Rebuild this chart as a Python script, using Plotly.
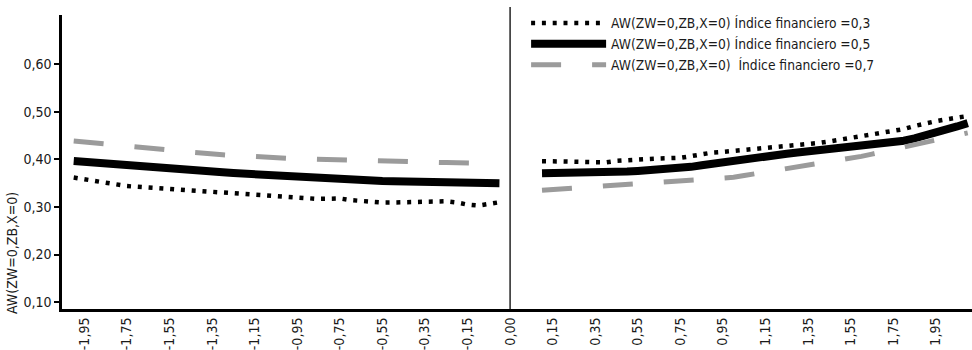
import numpy as np
import plotly.graph_objects as go

# Tick labels along the horizontal axis (one label every four sample slots)
tick_labels = ["-1,95", "-1,75", "-1,55", "-1,35", "-1,15", "-0,95", "-0,75", "-0,55",
               "-0,35", "-0,15", "0,00", "0,15", "0,35", "0,55", "0,75", "0,95",
               "1,15", "1,35", "1,55", "1,75", "1,95"]

# Left branch (negative side), one value per slot
left_03 = [0.362, 0.358, 0.354, 0.351, 0.347, 0.344, 0.3425, 0.341, 0.3395, 0.338,
           0.3365, 0.335, 0.3335, 0.332, 0.330, 0.3285, 0.327, 0.3255, 0.3235, 0.322,
           0.320, 0.3185, 0.317, 0.317, 0.3175, 0.318, 0.3145, 0.3125, 0.3105, 0.3095,
           0.3095, 0.310, 0.311, 0.311, 0.3125, 0.312, 0.3095, 0.305, 0.303, 0.306, 0.310]
left_05 = [0.397, 0.395, 0.393, 0.391, 0.3895, 0.3875, 0.386, 0.384, 0.382, 0.3805,
           0.379, 0.3775, 0.376, 0.3745, 0.373, 0.3715, 0.370, 0.369, 0.368, 0.367,
           0.366, 0.3645, 0.3625, 0.361, 0.3595, 0.358, 0.357, 0.356, 0.355, 0.3545,
           0.354, 0.3535, 0.3535, 0.354, 0.3555, 0.355, 0.3535, 0.352, 0.351, 0.350, 0.350]
left_07 = [0.439, 0.437, 0.435, 0.433, 0.4315, 0.430, 0.428, 0.425, 0.4225, 0.420,
           0.417, 0.4146, 0.413, 0.4115, 0.410, 0.4085, 0.407, 0.4058, 0.404, 0.403,
           0.4025, 0.4015, 0.401, 0.4002, 0.3998, 0.3993, 0.399, 0.3985, 0.398, 0.397,
           0.3963, 0.3957, 0.395, 0.3945, 0.394, 0.3935, 0.393, 0.3925, 0.392, 0.392, 0.3915]

# Right branch (positive side)
right_03 = [0.3965, 0.3963, 0.396, 0.3958, 0.395, 0.3945, 0.394, 0.397, 0.399, 0.4006,
            0.401, 0.402, 0.403, 0.4035, 0.407, 0.411, 0.4146, 0.416, 0.418, 0.4195,
            0.422, 0.424, 0.4265, 0.4285, 0.4305, 0.433, 0.4347, 0.438, 0.4417, 0.445,
            0.4485, 0.452, 0.456, 0.4605, 0.464, 0.4705, 0.4765, 0.4805, 0.4845, 0.488, 0.4915]
right_05 = [0.3708, 0.3708, 0.3709, 0.371, 0.371, 0.3715, 0.372, 0.373, 0.3745, 0.376,
            0.377, 0.378, 0.3795, 0.381, 0.3845, 0.388, 0.3915, 0.394, 0.397, 0.400,
            0.403, 0.406, 0.409, 0.412, 0.4145, 0.417, 0.419, 0.421, 0.423, 0.4255,
            0.428, 0.430, 0.433, 0.4365, 0.4395, 0.4445, 0.450, 0.4555, 0.4625, 0.4695, 0.4765]
right_07 = [0.3355, 0.337, 0.3385, 0.340, 0.3415, 0.343, 0.3444, 0.3457, 0.347, 0.3485,
            0.3497, 0.351, 0.352, 0.3537, 0.3553, 0.357, 0.3587, 0.3605, 0.3625, 0.3662,
            0.3697, 0.3733, 0.377, 0.3805, 0.384, 0.3875, 0.391, 0.3945, 0.398, 0.4015,
            0.4065, 0.4113, 0.416, 0.421, 0.426, 0.431, 0.436, 0.441, 0.4463, 0.451, 0.456]

series_names = ["AW(ZW=0,ZB,X=0) Índice financiero =0,3",
                "AW(ZW=0,ZB,X=0) Índice financiero =0,5",
                "AW(ZW=0,ZB,X=0)\u00a0 Índice financiero =0,7"]

# Slot positions: labels every 4 slots, the "0,00" divider at slot 40,
# left branch on slots -1..39 and right branch on slots 43..83
tick_slots = np.arange(len(tick_labels)) * 4
divider_slot = tick_slots[tick_labels.index("0,00")]
left_x = np.arange(len(left_05)) - 1
right_x = np.arange(len(right_05)) + divider_slot + 3

styles = [dict(color="black", width=4.5, dash="4px,6.8px"),
          dict(color="black", width=8),
          dict(color="#9b9b9b", width=5, dash="30px,31px")]

fig = go.Figure()
for name, ly, ry, st in zip(series_names, [left_03, left_05, left_07],
                            [right_03, right_05, right_07], styles):
    x = np.concatenate([left_x, [np.nan], right_x])
    y = list(ly) + [None] + list(ry)
    fig.add_trace(go.Scatter(x=x, y=y, mode="lines", name=name, line=st,
                             connectgaps=False, hoverinfo="skip"))

font_family = "DejaVu Sans Condensed, Liberation Sans Narrow, sans-serif"
text_color = "#1a1a1a"

fig.add_shape(type="line", xref="x", yref="paper", x0=divider_slot, x1=divider_slot,
              y0=0, y1=1.027, line=dict(color="black", width=1.3))

fig.add_annotation(text="AW(ZW=0,ZB,X=0)", xref="paper", yref="paper",
                   x=-0.055, y=0.19, xanchor="center", yanchor="middle",
                   textangle=-90, showarrow=False,
                   font=dict(size=14, color=text_color, family=font_family))

fig.update_layout(
    width=972, height=350,
    margin=dict(l=62, r=0, t=15, b=38),
    paper_bgcolor="white", plot_bgcolor="white",
    separators=",.",
    font=dict(family=font_family, size=14, color=text_color),
    showlegend=True,
    legend=dict(x=0.51, y=1.025, xanchor="left", yanchor="top",
                bgcolor="rgba(0,0,0,0)", itemwidth=75,
                font=dict(size=13.7, family=font_family, color=text_color),
                tracegroupgap=0),
    xaxis=dict(range=[-2.1, 83.4], tickvals=tick_slots, ticktext=tick_labels,
               tickangle=-90, showgrid=False, zeroline=False, showline=True,
               linecolor="black", linewidth=3, ticks="",
               tickfont=dict(size=14, family=font_family, color=text_color)),
    yaxis=dict(range=[0.0854, 0.704], tickvals=[0.1, 0.2, 0.3, 0.4, 0.5, 0.6],
               tickformat=".2f", showgrid=False, zeroline=False, showline=True,
               linecolor="black", linewidth=2.5, ticks="outside", ticklen=5,
               tickwidth=1.5, tickcolor="black",
               tickfont=dict(size=14, family=font_family, color=text_color)),
)

fig.write_html("out.html")
